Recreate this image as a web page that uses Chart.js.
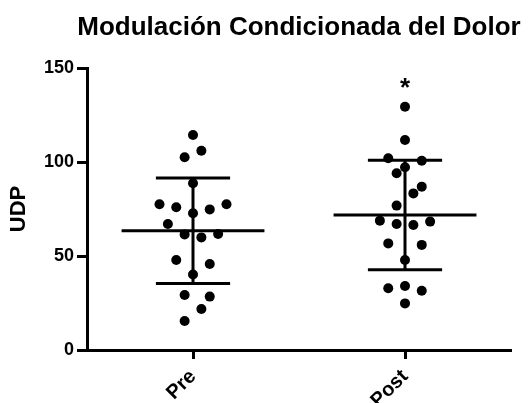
<!DOCTYPE html>
<html>
<head>
<meta charset="utf-8">
<script src="https://cdn.jsdelivr.net/npm/chart.js@4.4.1/dist/chart.umd.min.js"></script>
<style>
    html, body { margin: 0; padding: 0; background: #fff; }
    #wrap { width: 530px; height: 403px; }
</style>
</head>
<body>
<div id="wrap"><canvas id="udpChart" width="530" height="403"></canvas></div>
<script>
// Values
const categories = ['Pre', 'Post'];
const preValues = [114.4, 106, 102.5, 88.7, 77.5, 75.9, 77.5, 74.8, 72.7, 67, 61.5, 59.9, 61.7, 47.9, 45.7, 40.2, 29.3, 28.4, 21.8, 15.4];
const preColumns = [0, 0.5, -0.5, 0, -2, -1, 2, 1, 0, -1.5, -0.5, 0.5, 1.5, -1, 1, 0, -0.5, 1, 0.5, -0.5];
const postValues = [129.4, 111.7, 102, 100.7, 97.2, 94, 86.9, 83.3, 76.8, 68.8, 67, 66.5, 68.3, 56.7, 55.9, 47.9, 32.8, 34, 31.5, 24.8];
const postColumns = [0, 0, -1, 1, 0, -0.5, 1, 0.5, -0.5, -1.5, -0.5, 0.5, 1.5, -1, 1, 0, -1, 0, 1, 0];
const yTicks = [0, 50, 100, 150];
const marks = ['', '*'];
const chartTitle = 'Modulación Condicionada del Dolor';

const FONT = '"Liberation Sans", Arial, sans-serif';
const JITTER = 0.079;     // category units per dot column
const MEAN_HALF = 0.337;
const SD_HALF = 0.175;

function mean(arr) {
    return arr.reduce((a, b) => a + b, 0) / arr.length;
}

function sd(arr) {
    const m = mean(arr);
    return Math.sqrt(arr.reduce((a, b) => a + (b - m) * (b - m), 0) / (arr.length - 1));
}

const groups = [
    { values: preValues, cols: preColumns },
    { values: postValues, cols: postColumns }
];

const datasets = [];

groups.forEach((g, i) => {
    const cx = i + 1;
    datasets.push({
        label: categories[i],
        data: g.values.map((v, k) => ({ x: cx + g.cols[k] * JITTER, y: v })),
        backgroundColor: '#000',
        borderWidth: 0,
        pointRadius: 5,
        order: 0
    });

    const m = mean(g.values);
    const s = sd(g.values);
    const segments = [
        [{ x: cx - MEAN_HALF, y: m }, { x: cx + MEAN_HALF, y: m }],
        [{ x: cx - SD_HALF, y: m + s }, { x: cx + SD_HALF, y: m + s }],
        [{ x: cx - SD_HALF, y: m - s }, { x: cx + SD_HALF, y: m - s }],
        [{ x: cx, y: m - s }, { x: cx, y: m + s }]
    ];
    segments.forEach(seg => {
        datasets.push({
            data: seg,
            showLine: true,
            borderColor: '#000',
            borderWidth: 3,
            pointRadius: 0,
            order: 1
        });
    });
});

// significance marker above the highest dot of a group, title centred on the plot
const textPlugin = {
    id: 'texts',
    afterDatasetsDraw(chart) {
        const { ctx, scales, chartArea } = chart;
        ctx.save();
        ctx.fillStyle = '#000';
        ctx.textAlign = 'center';
        ctx.textBaseline = 'alphabetic';

        ctx.font = 'bold 26px ' + FONT;
        groups.forEach((g, i) => {
            if (!marks[i]) return;
            const x = scales.x.getPixelForValue(i + 1);
            const y = scales.y.getPixelForValue(Math.max(...g.values)) - 11;
            ctx.fillText(marks[i], x, y);
        });

        ctx.font = 'bold 26px ' + FONT;
        ctx.fillText(chartTitle, (chartArea.left + chartArea.right) / 2, chartArea.top - 33);
        ctx.restore();
    }
};

new Chart(document.getElementById('udpChart'), {
    type: 'scatter',
    data: { datasets },
    options: {
        responsive: false,
        animation: false,
        layout: {
            padding: { top: 68, right: 19, bottom: 0, left: 0 }
        },
        plugins: {
            legend: { display: false },
            tooltip: { enabled: false },
            title: { display: false }
        },
        scales: {
            x: {
                type: 'linear',
                min: 0.5,
                max: 2.5,
                afterBuildTicks: scale => {
                    scale.ticks = categories.map((c, i) => ({ value: i + 1 }));
                },
                afterFit: scale => { scale.height = 53; },
                ticks: {
                    autoSkip: false,
                    minRotation: 45,
                    maxRotation: 45,
                    padding: 6,
                    color: '#000',
                    font: { family: FONT, size: 20, weight: 'bold' },
                    callback: v => categories[v - 1]
                },
                grid: {
                    drawOnChartArea: false,
                    tickLength: 9,
                    tickWidth: 3,
                    tickColor: '#000'
                },
                border: { display: true, color: '#000', width: 3 }
            },
            y: {
                min: 0,
                max: 150,
                afterBuildTicks: scale => {
                    scale.ticks = yTicks.map(v => ({ value: v }));
                },
                afterFit: scale => { scale.width = 87; },
                ticks: {
                    padding: 3,
                    color: '#000',
                    font: { family: FONT, size: 18, weight: 'bold' }
                },
                grid: {
                    drawOnChartArea: false,
                    tickLength: 10,
                    tickWidth: 3,
                    tickColor: '#000'
                },
                border: { display: true, color: '#000', width: 3 },
                title: {
                    display: true,
                    text: 'UDP',
                    color: '#000',
                    font: { family: FONT, size: 22, weight: 'bold' },
                    padding: { top: 6, bottom: 0 }
                }
            }
        }
    },
    plugins: [textPlugin]
});
</script>
</body>
</html>
